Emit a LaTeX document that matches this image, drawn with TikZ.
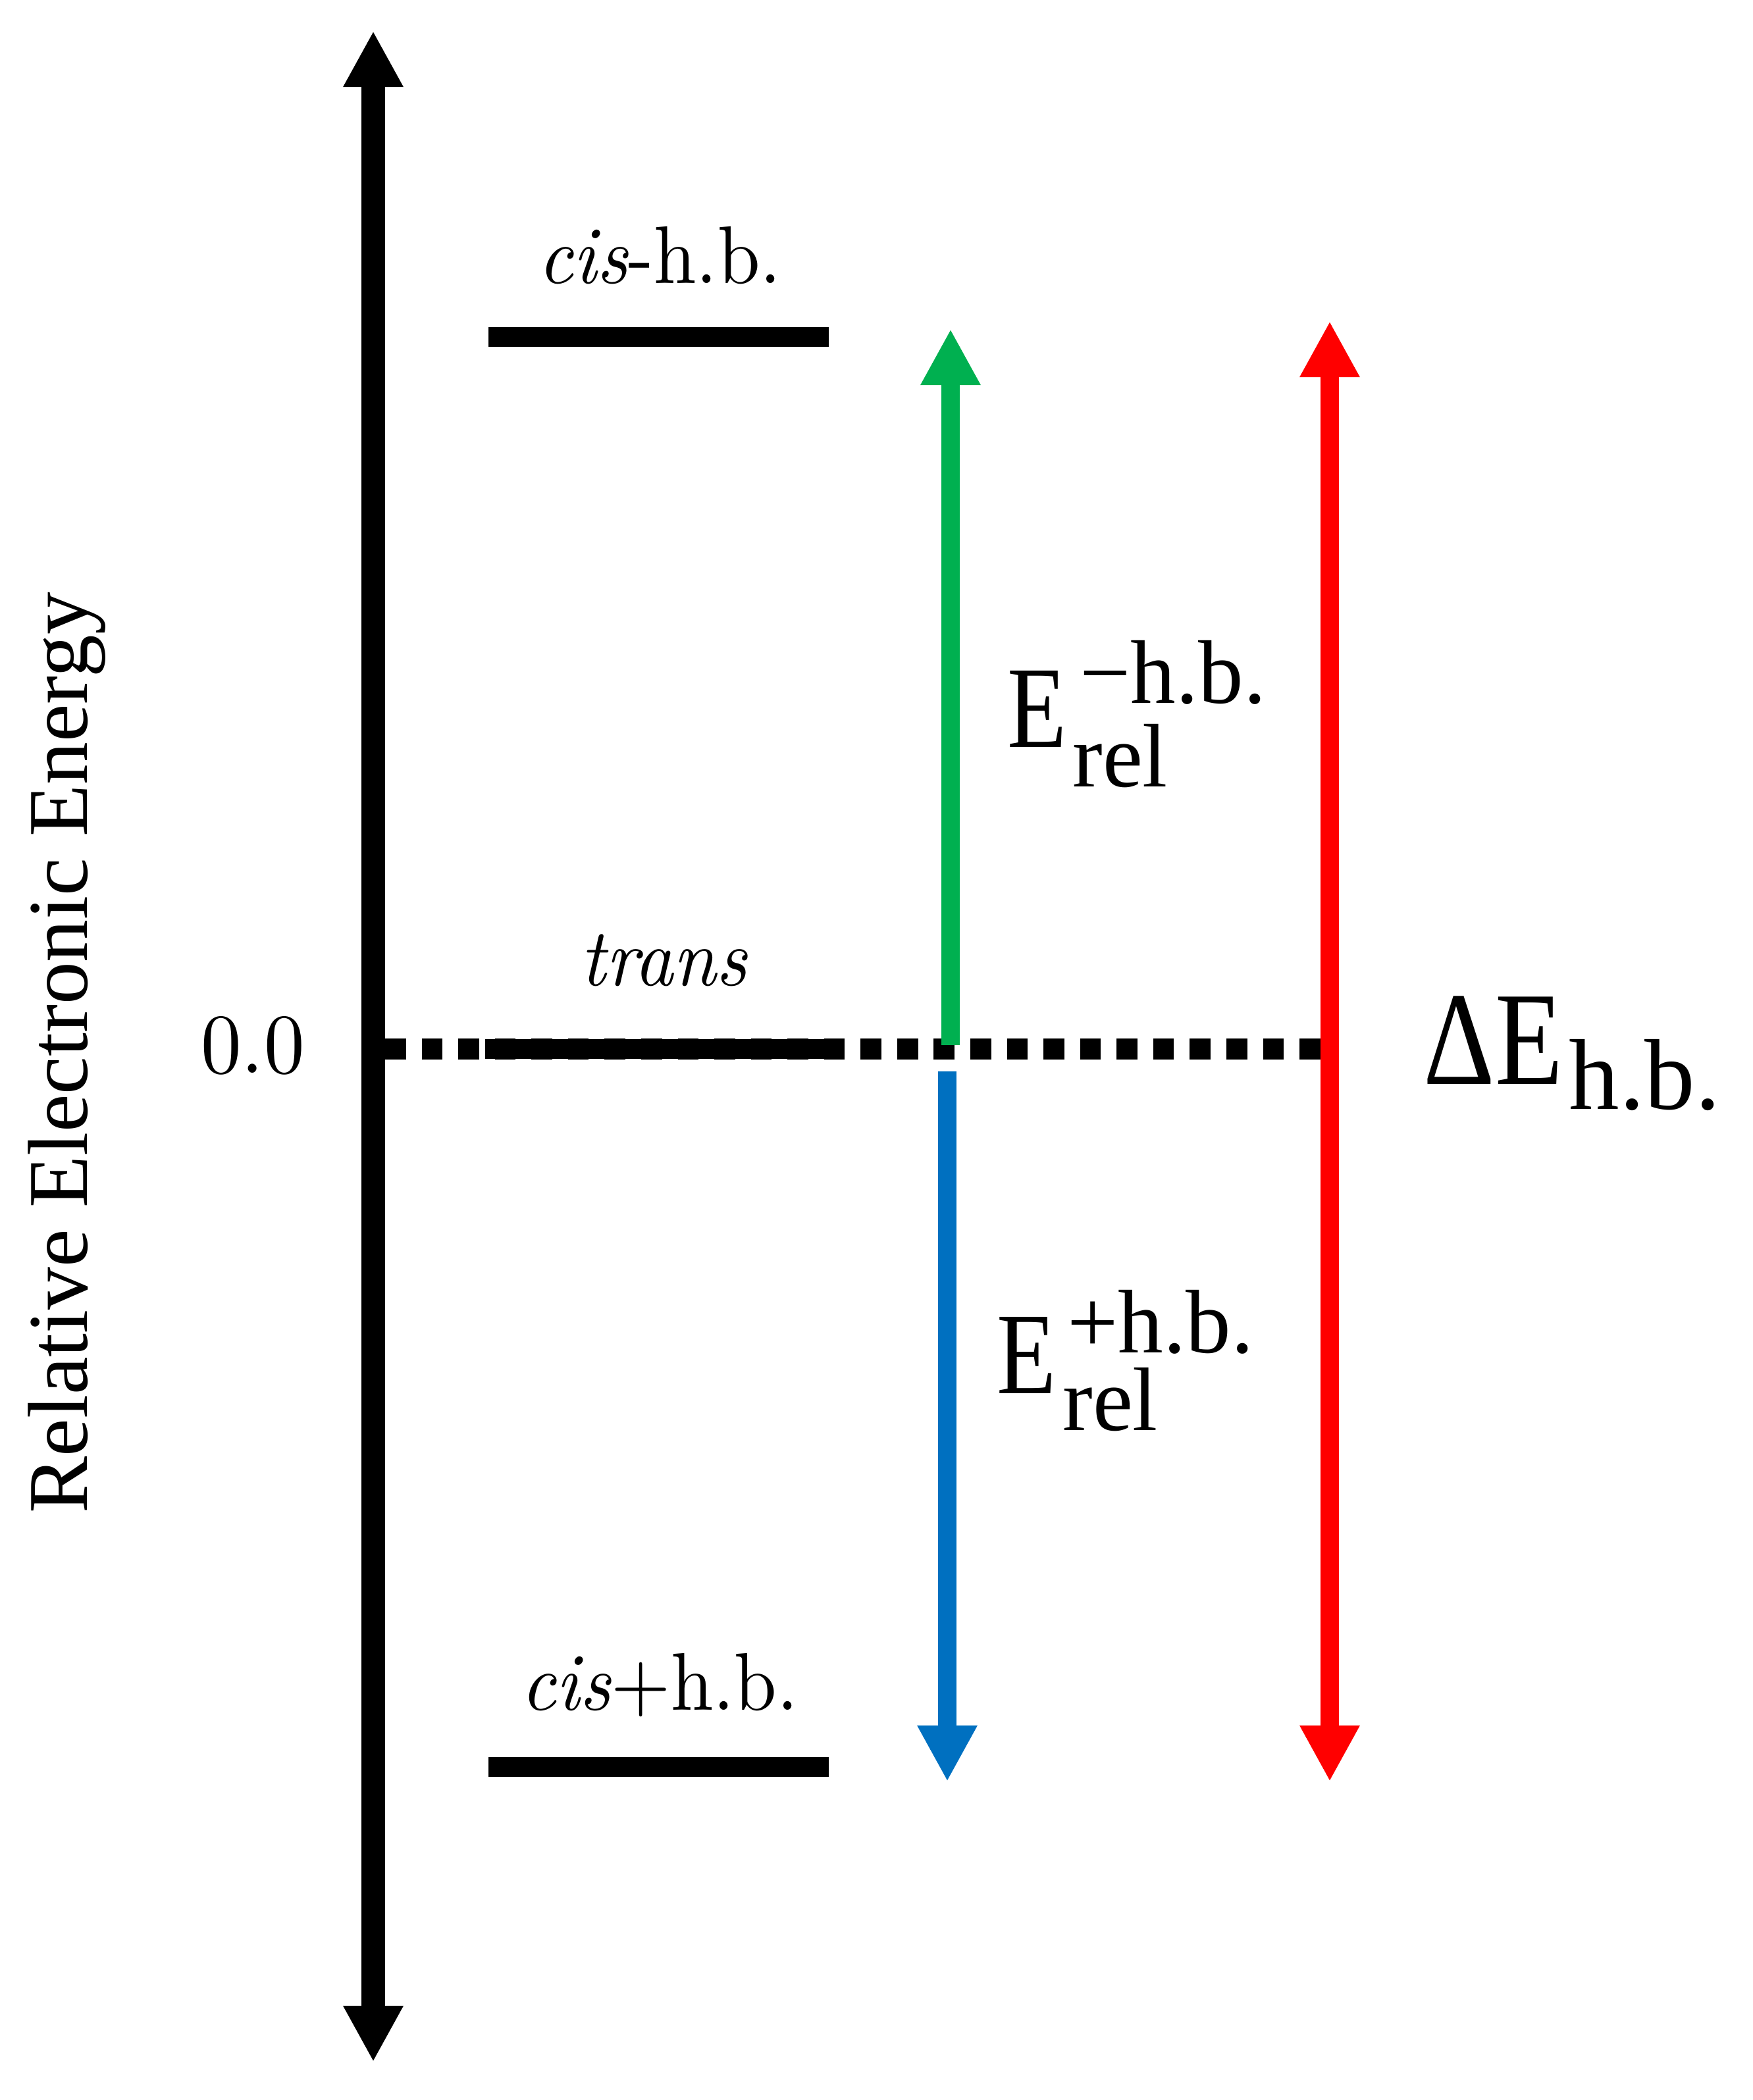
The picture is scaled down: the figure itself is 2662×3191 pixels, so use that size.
\documentclass[tikz,border=0pt]{standalone}
\usepackage{fontspec}
\usepackage{graphicx}
\newfontfamily\tnr{LiberationSerif-Regular.ttf}
\newfontfamily\lmten{lmroman10-regular.otf}[ItalicFont=lmroman10-italic.otf]
\usetikzlibrary{arrows.meta}
\definecolor{hbgreen}{HTML}{00B050}
\definecolor{hbblue}{HTML}{0070C0}
\definecolor{hbred}{HTML}{FF0000}
\tikzset{
  bigtip/.tip={Triangle[width=24.2pt,length=24.2pt]},
  axisline/.style={line width=10pt},
  levelline/.style={line width=8.5pt},
  zeroline/.style={line width=9pt, dash pattern=on 9pt off 6.8pt},
  energyarrow/.style={line width=8pt},
  lmlabel/.style={inner sep=0pt, anchor=base, font=\lmten\fontsize{33}{40}\selectfont},
  tnrbig/.style={inner sep=0pt, anchor=base west, font=\tnr\fontsize{42}{48}\selectfont},
  tnrscript/.style={inner sep=0pt, anchor=base west, font=\tnr\fontsize{39}{44}\selectfont},
}
\begin{document}
\begin{tikzpicture}[x=0.01cm, y=-0.01cm]
\path[use as bounding box] (0,0) rectangle (2662,3191);

% coordinates
\coordinate (axtop) at (567,47);
\coordinate (axbot) at (567,3133);
\coordinate (zstart) at (585,1594);
\coordinate (zend) at (2006,1594);
\coordinate (gbot) at (1444,1588);
\coordinate (gtop) at (1444,500);
\coordinate (btop) at (1439,1628);
\coordinate (bbot) at (1439,2707);
\coordinate (rtop) at (2020,488);
\coordinate (rbot) at (2020,2707);

% zero reference line
\draw[zeroline] (zstart) -- (zend);

% energy levels
\draw[levelline] (742,512) coordinate (cml) -- (1259,512) coordinate (cmr);
\draw[levelline] (737,1594) coordinate (trl) -- (1278,1594) coordinate (trr);
\draw[levelline] (742,2685) coordinate (cpl) -- (1259,2685) coordinate (cpr);

% axis
\draw[axisline, bigtip-bigtip] (axbot) -- (axtop);

% coloured arrows
\draw[energyarrow, hbgreen, -bigtip] (gbot) -- (gtop);
\draw[energyarrow, hbblue, -bigtip] (btop) -- (bbot);
\draw[energyarrow, hbred, bigtip-bigtip] (rbot) -- (rtop);

% level labels
\node[lmlabel] (cisminus) at (1002,430) {\scalebox{1}[1.07]{\textit{cis}-h.b.}};
\node[lmlabel] (trans) at (1009,1497) {\scalebox{1}[1.07]{\textit{trans}}};
\node[lmlabel] (cisplus) at (1002,2598) {\scalebox{1}[1.07]{\textit{cis}+h.b.}};
\node[inner sep=0pt, anchor=base, font=\lmten\fontsize{35}{40}\selectfont] (zero) at (384,1630) {\scalebox{1}[1.05]{0.0}};

% axis title
\node[inner sep=0pt, anchor=base, rotate=90, font=\tnr\fontsize{36.8}{40}\selectfont] (ytitle) at (132,1600) {Relative Electronic Energy};

% E_rel^{-h.b.}
\node[tnrbig] (Em) at (1530,1135) {\scalebox{1}[1.2]{E}};
\node[tnrscript] (Emsup) at ([shift={(18,-67)}]Em.base east) {−h.b.};
\node[tnrscript] (Emsub) at ([shift={(7,60)}]Em.base east) {rel};

% E_rel^{+h.b.}
\node[tnrbig] (Ep) at (1514,2117) {\scalebox{1}[1.2]{E}};
\node[tnrscript] (Epsup) at ([shift={(15,-62)}]Ep.base east) {+h.b.};
\node[tnrscript] (Epsub) at ([shift={(8,56)}]Ep.base east) {rel};

% Delta E_h.b.
\node[inner sep=0pt, anchor=base west, font=\tnr\fontsize{48}{54}\selectfont] (dE) at (2162,1647) {\scalebox{1}[1.2]{ΔE}};
\node[inner sep=0pt, anchor=base west, font=\tnr\fontsize{43.5}{48}\selectfont] (dEsub) at ([shift={(8,38)}]dE.base east) {h.b.};
\end{tikzpicture}
\end{document}
